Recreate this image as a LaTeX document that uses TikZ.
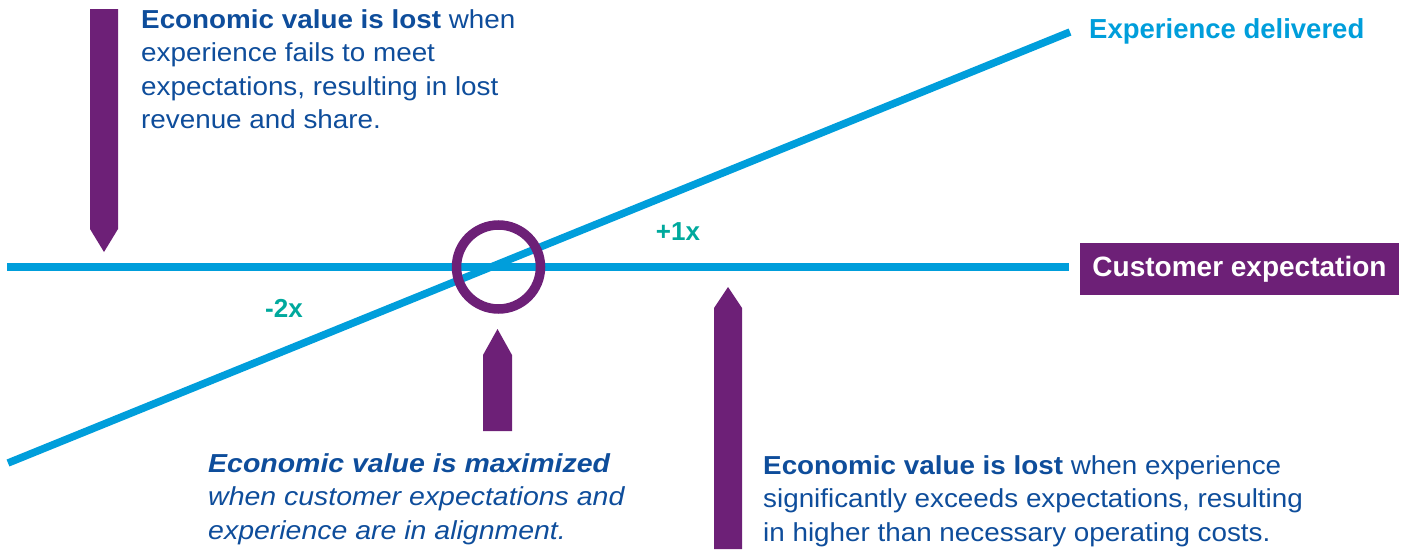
\documentclass[tikz,border=0pt]{standalone}
\usepackage{fontspec}
\setmainfont{Liberation Sans}
\newfontfamily\bodyfont[FakeStretch=1.07]{Liberation Sans}
\newfontfamily\bodyitfont[FakeStretch=1.095]{Liberation Sans}
\definecolor{lineblue}{HTML}{009EDB}
\definecolor{kpurple}{HTML}{6D2077}
\definecolor{textblue}{HTML}{0E4D9B}
\definecolor{kteal}{HTML}{00A99D}
\begin{document}
\begin{tikzpicture}[x=1pt,y=-1pt,
  blueline/.style={draw=lineblue,line width=7.5pt},
  pointer/.style={fill=kpurple,draw=none},
  bodytext/.style={anchor=north west,inner sep=0pt,align=left,text=textblue,
    font=\bodyfont\fontsize{26}{33.5}\selectfont},
  factor/.style={inner sep=0pt,text=kteal,font=\fontsize{26}{30}\selectfont\bfseries},
  ringstyle/.style={draw=kpurple,line width=9.5pt,circle,minimum size=84pt,inner sep=0pt}]
\useasboundingbox (0,0) rectangle (1407,549);
% coordinates
\coordinate (hl) at (7,267);
\coordinate (hr) at (1069,267);
\coordinate (dl) at (8,463);
\coordinate (dr) at (1070,32);
% lines
\draw[blueline] (hl) -- (hr);
\draw[blueline] (dl) -- (dr);
% ring
\node[ringstyle] (ring) at (498.5,267) {};
% pointers
\fill[pointer] (90,9) -- (118,9) -- (118,229) -- (104,252) -- (90,229) -- cycle;
\fill[pointer] (483,431) -- (512,431) -- (512,355) -- (497.5,329) -- (483,355) -- cycle;
\fill[pointer] (714,549) -- (742,549) -- (742,308) -- (728,287) -- (714,308) -- cycle;
% labels
\node[factor] (plus) at (678,232) {+1x};
\node[factor] (minus) at (284,308) {-2x};
\node[anchor=west,inner sep=0pt,text=lineblue,font=\fontsize{27.5}{30}\selectfont\bfseries] (exp) at (1089,31) {Experience delivered};
\node[fill=kpurple,text=white,font=\fontsize{28}{30}\selectfont\bfseries,
  minimum width=319pt,minimum height=52pt,inner sep=0pt] (cust) at (1239.5,269) {Customer expectation};
% text blocks
\node[bodytext] (t1) at (141,9) {\textbf{Economic value is lost} when\\experience fails to meet\\expectations, resulting in lost\\revenue and share.};
\node[bodytext,font=\bodyitfont\fontsize{26}{33.5}\selectfont\itshape] (t2) at (208,453) {\textbf{Economic value is maximized}\\when customer expectations and\\experience are in alignment.};
\node[bodytext] (t3) at (763,455) {\textbf{Economic value is lost} when experience\\significantly exceeds expectations, resulting\\in higher than necessary operating costs.};
\end{tikzpicture}
\end{document}
